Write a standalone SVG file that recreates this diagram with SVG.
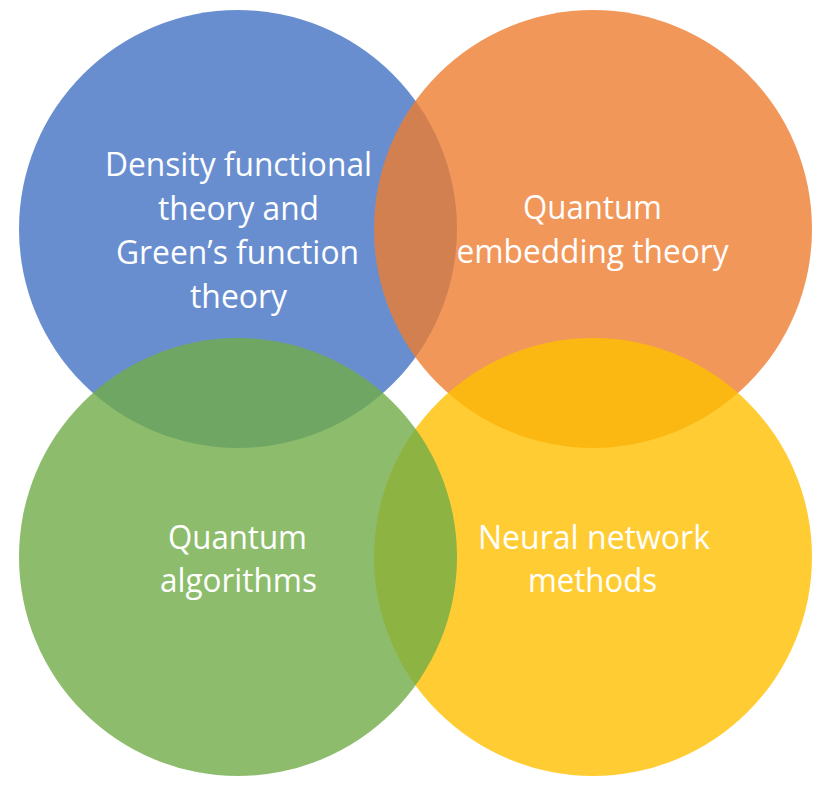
<svg xmlns="http://www.w3.org/2000/svg" width="833" height="793" viewBox="0 0 833 793">
<style>
  .c { opacity: 0.8; }
  .t { font-family: "Open Sans", "Noto Sans", "DejaVu Sans", sans-serif; font-size: 32px; fill: #FFFFFF; text-anchor: middle; }
</style>
<rect width="833" height="793" fill="#FFFFFF"/>
<g id="dft">
  <circle class="c" cx="238" cy="229" r="219" fill="#4472C4"/>
</g>
<g id="embedding">
  <circle class="c" cx="593" cy="229" r="219" fill="#ED7D31"/>
</g>
<g id="neural">
  <circle class="c" cx="593" cy="557" r="219" fill="#FFC000"/>
</g>
<g id="qalg">
  <circle class="c" cx="238" cy="557" r="219" fill="#70AD47"/>
</g>
<g id="labels">
  <g id="dft-label">
    <text class="t" x="238.5" y="176" textLength="267" lengthAdjust="spacingAndGlyphs">Density functional</text>
    <text class="t" x="238.5" y="220" textLength="161" lengthAdjust="spacingAndGlyphs">theory and</text>
    <text class="t" x="237.5" y="264" textLength="243" lengthAdjust="spacingAndGlyphs">Green’s function</text>
    <text class="t" x="238.5" y="308" textLength="97" lengthAdjust="spacingAndGlyphs">theory</text>
  </g>
  <g id="embedding-label">
    <text class="t" x="592.5" y="219" textLength="139" lengthAdjust="spacingAndGlyphs">Quantum</text>
    <text class="t" x="592.5" y="263" textLength="272" lengthAdjust="spacingAndGlyphs">embedding theory</text>
  </g>
  <g id="qalg-label">
    <text class="t" x="237.5" y="549" textLength="139" lengthAdjust="spacingAndGlyphs">Quantum</text>
    <text class="t" x="238.5" y="592" textLength="157" lengthAdjust="spacingAndGlyphs">algorithms</text>
  </g>
  <g id="neural-label">
    <text class="t" x="594" y="549" textLength="232" lengthAdjust="spacingAndGlyphs">Neural network</text>
    <text class="t" x="592.5" y="592" textLength="129" lengthAdjust="spacingAndGlyphs">methods</text>
  </g>
</g>
</svg>
